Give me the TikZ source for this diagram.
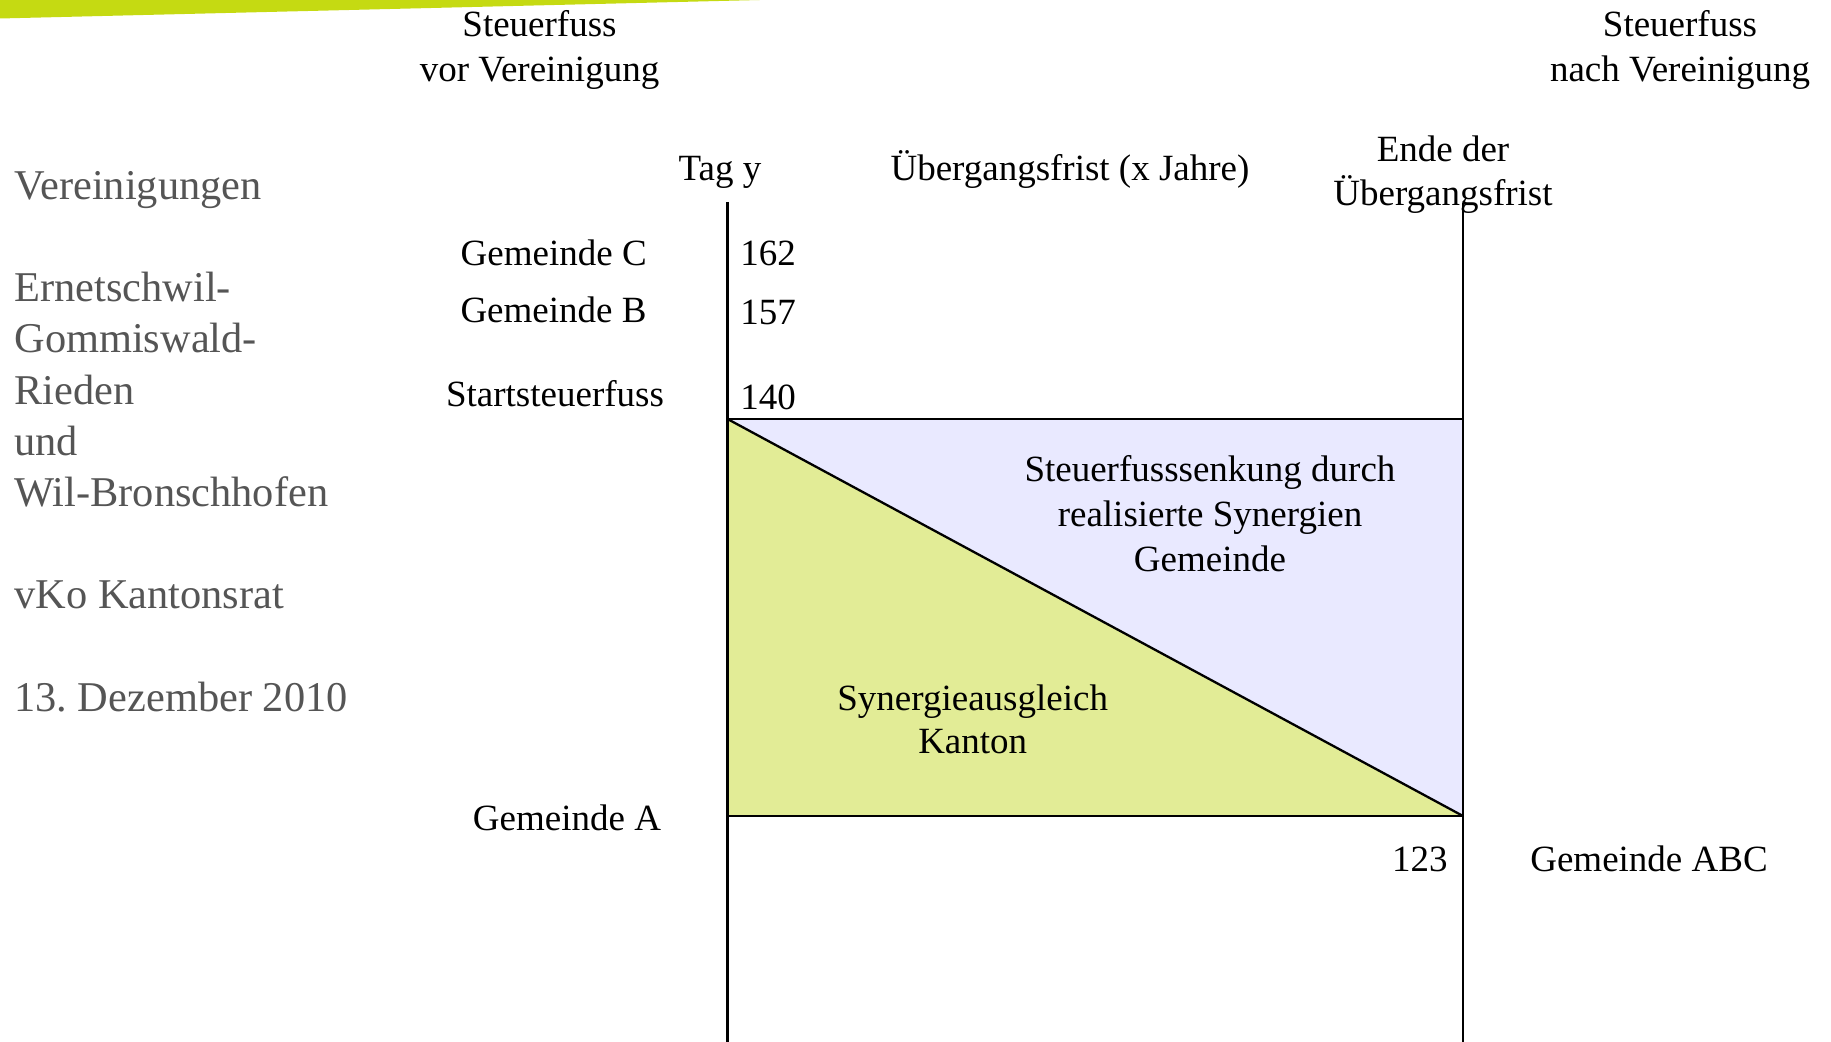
\documentclass[tikz,border=0pt]{standalone}
\usepackage{fontspec}
\setmainfont{Liberation Serif}
\frenchspacing
\definecolor{barGreen}{HTML}{C5DA12}
\definecolor{fillGreen}{HTML}{E2EC96}
\definecolor{fillLav}{HTML}{E9E9FF}
\definecolor{greyText}{HTML}{555555}
\tikzset{
  lbl/.style={inner sep=0pt, anchor=base, font=\fontsize{18.5}{22}\selectfont},
  lblL/.style={lbl, anchor=base west},
  lblR/.style={lbl, anchor=base east},
  side/.style={inner sep=0pt, anchor=base west, text=greyText, font=\fontsize{21.2}{25}\selectfont},
  axis/.style={line width=1.15pt, black},
}
\begin{document}
\begin{tikzpicture}[x=0.5pt, y=-0.5pt]
\useasboundingbox (0,0) rectangle (1831,1042);
% top bar
\fill[barGreen] (0,0) -- (760,0) -- (0,18.5) -- cycle;
% coordinates
\coordinate (lt) at (727.5,202);
\coordinate (lb) at (727.5,1042);
\coordinate (rt) at (1463,203);
\coordinate (rb) at (1463,1042);
\coordinate (a) at (727.5,419);
\coordinate (b) at (1463,419);
\coordinate (c) at (1463,816);
\coordinate (d) at (727.5,816);
% fills
\fill[fillGreen] (a) -- (c) -- (d) -- cycle;
\fill[fillLav] (a) -- (b) -- (c) -- cycle;
% lines
\draw[axis] (lt) -- (lb);
\draw[axis] (rt) -- (rb);
\draw[axis] (a) -- (b);
\draw[axis] (d) -- (c);
\draw[axis] (a) -- (c);
% side text
\node[side] (s1) at (14,199.3) {Vereinigungen};
\node[side] (s2) at (14,301.7) {Ernetschwil-};
\node[side] (s3) at (14,352.9) {Gommiswald-};
\node[side] (s4) at (14,404.1) {Rieden};
\node[side] (s5) at (14,455.3) {und};
\node[side] (s6) at (14,506.5) {Wil-Bronschhofen};
\node[side] (s7) at (14,608.9) {vKo Kantonsrat};
\node[side] (s8) at (14,711.3) {13. Dezember 2010};
% headers
\node[lbl] (v1) at (539.5,36.7) {Steuerfuss};
\node[lbl] (v2) at (539.5,81.7) {vor Vereinigung};
\node[lbl] (n1) at (1680,36.7) {Steuerfuss};
\node[lbl] (n2) at (1680,81.7) {nach Vereinigung};
\node[lbl] (tag) at (720,180.7) {Tag y};
\node[lbl] (uf) at (1070,180.7) {Übergangsfrist (x Jahre)};
\node[lbl] (e1) at (1443,161.5) {Ende der};
\node[lbl] (e2) at (1443,206) {Übergangsfrist};
% left labels
\node[lbl] (gc) at (553.7,266) {Gemeinde C};
\node[lbl] (gb) at (553.5,322.7) {Gemeinde B};
\node[lbl] (st) at (555,406.7) {Startsteuerfuss};
\node[lbl] (ga) at (567,830) {Gemeinde A};
\node[lblL] (n162) at (740,266) {162};
\node[lblL] (n157) at (740,325) {157};
\node[lblL] (n140) at (740,410) {140};
\node[lblR] (n123) at (1448,871.7) {123};
\node[lbl] (gabc) at (1649,871.7) {Gemeinde ABC};
% area texts
\node[lbl] (t1) at (1210,482) {Steuerfusssenkung durch};
\node[lbl] (t2) at (1210,527) {realisierte Synergien};
\node[lbl] (t3) at (1210,572) {Gemeinde};
\node[lbl] (k1) at (972.7,710) {Synergieausgleich};
\node[lbl] (k2) at (972.7,753) {Kanton};
\end{tikzpicture}
\end{document}
